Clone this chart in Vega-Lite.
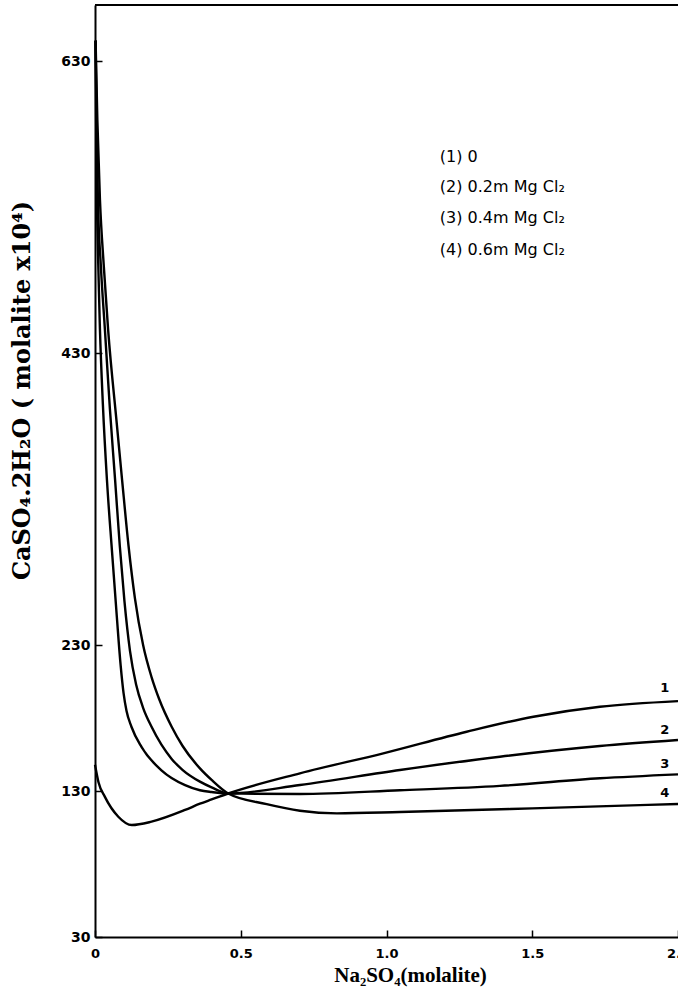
{
  "$schema": "https://vega.github.io/schema/vega-lite/v6.json",
  "width": 583,
  "height": 932,
  "autosize": {"type": "none"},
  "padding": {"left": 95, "top": 5, "right": 0, "bottom": 65},
  "background": "white",
  "config": {"view": {"stroke": null}},
  "datasets": {
    "curves": [
      {"curve": "1", "x": 0, "y": 148}, {"curve": "1", "x": 0.012, "y": 136}, {"curve": "1", "x": 0.034, "y": 126}, {"curve": "1", "x": 0.08, "y": 112.4}, {"curve": "1", "x": 0.126, "y": 106.7}, {"curve": "1", "x": 0.194, "y": 109}, {"curve": "1", "x": 0.309, "y": 117}, {"curve": "1", "x": 0.36, "y": 121.3}, {"curve": "1", "x": 0.4, "y": 124.2}, {"curve": "1", "x": 0.457, "y": 128.3}, {"curve": "1", "x": 0.703, "y": 142.1}, {"curve": "1", "x": 0.989, "y": 155.8}, {"curve": "1", "x": 1.275, "y": 170.6}, {"curve": "1", "x": 1.504, "y": 180.9}, {"curve": "1", "x": 1.732, "y": 187.7}, {"curve": "1", "x": 2.0, "y": 191.6},
      {"curve": "2", "x": 0.002, "y": 644}, {"curve": "2", "x": 0.005, "y": 560}, {"curve": "2", "x": 0.01, "y": 500}, {"curve": "2", "x": 0.017, "y": 446}, {"curve": "2", "x": 0.027, "y": 395}, {"curve": "2", "x": 0.041, "y": 343}, {"curve": "2", "x": 0.058, "y": 295}, {"curve": "2", "x": 0.075, "y": 249}, {"curve": "2", "x": 0.088, "y": 216}, {"curve": "2", "x": 0.098, "y": 197}, {"curve": "2", "x": 0.108, "y": 185}, {"curve": "2", "x": 0.125, "y": 174}, {"curve": "2", "x": 0.16, "y": 160}, {"curve": "2", "x": 0.229, "y": 144}, {"curve": "2", "x": 0.309, "y": 134}, {"curve": "2", "x": 0.36, "y": 130.5}, {"curve": "2", "x": 0.4, "y": 129.3}, {"curve": "2", "x": 0.457, "y": 128.3}, {"curve": "2", "x": 0.703, "y": 134.1}, {"curve": "2", "x": 1.046, "y": 144.4}, {"curve": "2", "x": 1.389, "y": 153.5}, {"curve": "2", "x": 1.732, "y": 160.8}, {"curve": "2", "x": 2.0, "y": 164.9},
      {"curve": "3", "x": 0.002, "y": 644}, {"curve": "3", "x": 0.006, "y": 580}, {"curve": "3", "x": 0.01, "y": 535}, {"curve": "3", "x": 0.02, "y": 490}, {"curve": "3", "x": 0.034, "y": 446}, {"curve": "3", "x": 0.051, "y": 392}, {"curve": "3", "x": 0.069, "y": 343}, {"curve": "3", "x": 0.085, "y": 298}, {"curve": "3", "x": 0.101, "y": 260}, {"curve": "3", "x": 0.12, "y": 226}, {"curve": "3", "x": 0.141, "y": 203}, {"curve": "3", "x": 0.165, "y": 187}, {"curve": "3", "x": 0.194, "y": 174}, {"curve": "3", "x": 0.263, "y": 152}, {"curve": "3", "x": 0.3, "y": 144.5}, {"curve": "3", "x": 0.36, "y": 136.4}, {"curve": "3", "x": 0.4, "y": 132.5}, {"curve": "3", "x": 0.457, "y": 128.3}, {"curve": "3", "x": 0.703, "y": 128}, {"curve": "3", "x": 1.046, "y": 130.5}, {"curve": "3", "x": 1.389, "y": 133.5}, {"curve": "3", "x": 1.732, "y": 138.7}, {"curve": "3", "x": 2.0, "y": 141.4},
      {"curve": "4", "x": 0.002, "y": 644}, {"curve": "4", "x": 0.008, "y": 590}, {"curve": "4", "x": 0.017, "y": 535}, {"curve": "4", "x": 0.03, "y": 490}, {"curve": "4", "x": 0.045, "y": 446}, {"curve": "4", "x": 0.075, "y": 381}, {"curve": "4", "x": 0.093, "y": 343}, {"curve": "4", "x": 0.115, "y": 298}, {"curve": "4", "x": 0.137, "y": 262}, {"curve": "4", "x": 0.165, "y": 230}, {"curve": "4", "x": 0.194, "y": 208}, {"curve": "4", "x": 0.22, "y": 193}, {"curve": "4", "x": 0.263, "y": 174}, {"curve": "4", "x": 0.3, "y": 161}, {"curve": "4", "x": 0.36, "y": 145.5}, {"curve": "4", "x": 0.4, "y": 137.6}, {"curve": "4", "x": 0.457, "y": 128.3}, {"curve": "4", "x": 0.589, "y": 121}, {"curve": "4", "x": 0.703, "y": 116.5}, {"curve": "4", "x": 0.83, "y": 114.7}, {"curve": "4", "x": 1.046, "y": 115.6}, {"curve": "4", "x": 1.5, "y": 118.1}, {"curve": "4", "x": 2.0, "y": 121.1}
    ],
    "curveLabels": [
      {"x": 1.955, "y": 200.5, "label": "1"},
      {"x": 1.955, "y": 171.8, "label": "2"},
      {"x": 1.955, "y": 148.5, "label": "3"},
      {"x": 1.955, "y": 128.6, "label": "4"}
    ],
    "legend": [
      {"x": 1.183, "y": 564, "label": "(1)  0"},
      {"x": 1.183, "y": 543.5, "label": "(2)  0.2m  Mg Cl₂"},
      {"x": 1.183, "y": 522.5, "label": "(3)  0.4m  Mg Cl₂"},
      {"x": 1.183, "y": 500.5, "label": "(4)  0.6m  Mg Cl₂"}
    ],
    "frame": [{"top": 668.4}]
  },
  "layer": [
    {
      "data": {"name": "curves"},
      "mark": {"type": "line", "interpolate": "monotone", "color": "black", "strokeWidth": 2.4},
      "encoding": {
        "x": {
          "field": "x", "type": "quantitative",
          "scale": {"domain": [0, 2], "nice": false, "zero": false},
          "axis": {
            "values": [0, 0.5, 1, 1.5, 2],
            "labelExpr": "datum.value == 0 ? '0' : format(datum.value, '.1f')",
            "grid": false,
            "domainColor": "black", "domainWidth": 2,
            "tickColor": "black", "tickWidth": 1.5, "tickSize": -7,
            "labelFont": "DejaVu Sans", "labelFontWeight": "bold", "labelFontSize": 13, "labelColor": "black",
            "labelPadding": 17, "labelFlush": false, "labelOverlap": false,
            "title": "Na₂SO₄(molalite)",
            "titleFont": "Liberation Serif", "titleFontWeight": "bold", "titleFontSize": 21, "titleColor": "black",
            "titleX": 315, "titleY": 44, "titleBaseline": "alphabetic", "titleAlign": "center"
          }
        },
        "y": {
          "field": "y", "type": "quantitative",
          "scale": {"domain": [30, 668.4], "nice": false, "zero": false},
          "axis": {
            "values": [30, 130, 230, 430, 630],
            "grid": false,
            "domainColor": "black", "domainWidth": 2,
            "tickColor": "black", "tickWidth": 1.5, "tickSize": -7,
            "labelFont": "DejaVu Sans", "labelFontWeight": "bold", "labelFontSize": 14, "labelColor": "black",
            "labelPadding": 12, "labelOverlap": false,
            "title": "CaSO₄.2H₂O ( molalite x10⁴)",
            "titleFont": "DejaVu Serif", "titleFontWeight": "bold", "titleFontSize": 24, "titleColor": "black",
            "titleX": -73, "titleY": 385, "titleAngle": -90, "titleAlign": "center", "titleBaseline": "middle"
          }
        },
        "detail": {"field": "curve", "type": "nominal"}
      }
    },
    {
      "data": {"name": "frame"},
      "mark": {"type": "rule", "color": "black", "strokeWidth": 2},
      "encoding": {"y": {"field": "top", "type": "quantitative"}}
    },
    {
      "data": {"name": "curveLabels"},
      "mark": {"type": "text", "font": "DejaVu Sans", "fontWeight": "bold", "fontSize": 13, "color": "black", "align": "center", "baseline": "middle"},
      "encoding": {
        "x": {"field": "x", "type": "quantitative"},
        "y": {"field": "y", "type": "quantitative"},
        "text": {"field": "label"}
      }
    },
    {
      "data": {"name": "legend"},
      "mark": {"type": "text", "font": "DejaVu Sans", "fontSize": 16, "color": "black", "align": "left", "baseline": "middle"},
      "encoding": {
        "x": {"field": "x", "type": "quantitative"},
        "y": {"field": "y", "type": "quantitative"},
        "text": {"field": "label"}
      }
    }
  ]
}
